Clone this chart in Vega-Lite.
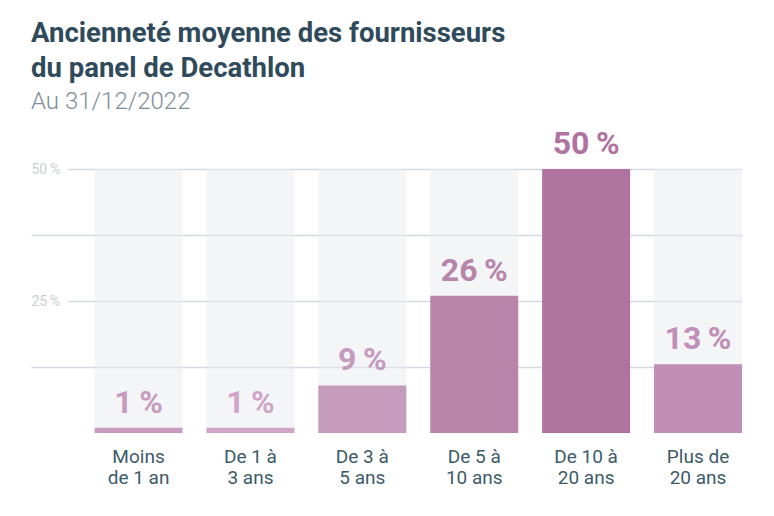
{
  "$schema": "https://vega.github.io/schema/vega-lite/v6.json",
  "width": 711,
  "height": 264,
  "autosize": {"type": "none"},
  "padding": {"left": 31, "top": 169, "right": 32, "bottom": 83},
  "background": "white",
  "config": {
    "view": {"stroke": null},
    "font": "Roboto",
    "axisY": {"grid": true, "gridColor": "#d3d9e0", "gridWidth": 1.5}
  },
  "title": {
    "text": ["Ancienneté moyenne des fournisseurs", "du panel de Decathlon"],
    "subtitle": "Au 31/12/2022",
    "anchor": "start",
    "frame": "group",
    "font": "Roboto",
    "fontSize": 27.5,
    "fontWeight": "bold",
    "color": "#2f4b5b",
    "lineHeight": 35,
    "subtitleFont": "Roboto",
    "subtitleFontSize": 24,
    "subtitleFontWeight": 300,
    "subtitleColor": "#7d8e98",
    "subtitlePadding": 8,
    "offset": 14
  },
  "data": {
    "values": [
      {"cat": "Moins de 1 an", "v": 1},
      {"cat": "De 1 à 3 ans", "v": 1},
      {"cat": "De 3 à 5 ans", "v": 9},
      {"cat": "De 5 à 10 ans", "v": 26},
      {"cat": "De 10 à 20 ans", "v": 50},
      {"cat": "Plus de 20 ans", "v": 13}
    ]
  },
  "encoding": {
    "x": {
      "field": "cat",
      "type": "nominal",
      "sort": null,
      "scale": {"paddingInner": 0.214, "paddingOuter": 0.284, "align": 1},
      "axis": {
        "title": null,
        "domain": false,
        "ticks": false,
        "labelAngle": 0,
        "labelFont": "Roboto",
        "labelFontSize": 19,
        "labelColor": "#3d5a69",
        "labelLineHeight": 21,
        "labelPadding": 14,
        "labelExpr": "datum.value == 'Moins de 1 an' ? ['Moins', 'de 1 an'] : datum.value == 'De 1 à 3 ans' ? ['De 1 à', '3 ans'] : datum.value == 'De 3 à 5 ans' ? ['De 3 à', '5 ans'] : datum.value == 'De 5 à 10 ans' ? ['De 5 à', '10 ans'] : datum.value == 'De 10 à 20 ans' ? ['De 10 à', '20 ans'] : ['Plus de', '20 ans']"
      }
    }
  },
  "layer": [
    {
      "mark": {"type": "bar", "fill": "#e9ecf0", "fillOpacity": 0.5},
      "encoding": {
        "y": {
          "datum": 50,
          "type": "quantitative",
          "scale": {"domain": [0, 50], "nice": false},
          "axis": {
            "title": null,
            "domain": false,
            "ticks": false,
            "grid": true,
            "values": [12.5, 25, 37.5, 50],
            "labelExpr": "datum.value == 25 || datum.value == 50 ? datum.value + '\u2009%' : ''",
            "labelAlign": "left",
            "labelPadding": 0,
            "labelFont": "Roboto",
            "labelFontSize": 14,
            "labelColor": "#c9cfd6",
            "gridColor": "#d3d9e0",
            "gridWidth": 1.5,
            "gridDash": {
              "condition": {"test": "datum.value == 25 || datum.value == 50", "value": [0, 37, 900, 0]},
              "value": []
            }
          }
        }
      }
    },
    {
      "mark": {"type": "bar"},
      "encoding": {
        "y": {"field": "v", "type": "quantitative"},
        "color": {
          "field": "cat",
          "type": "nominal",
          "sort": null,
          "legend": null,
          "scale": {
            "domain": ["Moins de 1 an", "De 1 à 3 ans", "De 3 à 5 ans", "De 5 à 10 ans", "De 10 à 20 ans", "Plus de 20 ans"],
            "range": ["#c79bbf", "#d0a6c8", "#c49abd", "#b884aa", "#b0729f", "#c08eb6"]
          }
        }
      }
    },
    {
      "mark": {"type": "rule", "color": "#d9b1d1", "strokeWidth": 2},
      "encoding": {"y": {"datum": 0, "type": "quantitative"}}
    },
    {
      "mark": {
        "type": "text",
        "font": "Roboto",
        "fontSize": 32,
        "fontWeight": "bold",
        "baseline": "bottom",
        "dy": -8,
        "text": {"expr": "datum.v + '\u2009%'"}
      },
      "encoding": {
        "y": {"field": "v", "type": "quantitative"},
        "color": {"field": "cat", "type": "nominal", "sort": null, "legend": null}
      }
    }
  ]
}
